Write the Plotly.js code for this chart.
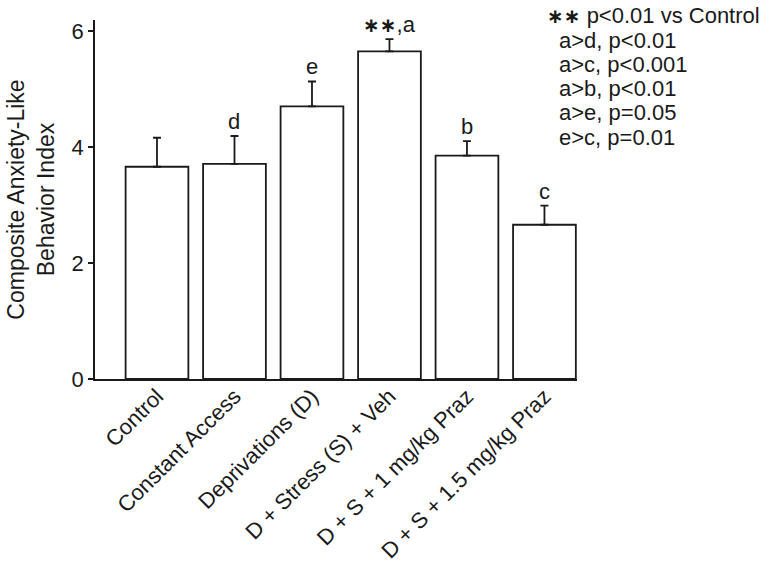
<!DOCTYPE html>
<html><head><meta charset="utf-8">
<script src="https://cdn.plot.ly/plotly-3.0.1.min.js"></script>
<style>html,body{margin:0;padding:0;background:#fff}#chart{width:770px;height:574px}</style>
</head><body><div id="chart"></div>
<script>
const categories = ['Control', 'Constant Access', 'Deprivations (D)', 'D + Stress (S) + Veh', 'D + S + 1 mg/kg Praz', 'D + S + 1.5 mg/kg Praz'];
const means = [3.66, 3.71, 4.70, 5.65, 3.85, 2.66];
const sem = [0.50, 0.48, 0.43, 0.21, 0.25, 0.33];
const sigLetters = ['', 'd', 'e', '**,a', 'b', 'c'];
const yTickVals = [0, 2, 4, 6];
const statLines = ['** p<0.01 vs Control', 'a>d, p<0.01', 'a>c, p<0.001', 'a>b, p<0.01', 'a>e, p=0.05', 'e>c, p=0.01'];

const FONT = 'Liberation Sans, Arial, Helvetica, sans-serif';
const INK = '#1a1a1a';

function esc(s) { return s.replace(/</g, '&lt;').replace(/>/g, '&gt;'); }
function fmtStars(s) { return esc(s).replace('**', "<span style='font-family:DejaVu Sans;font-size:20px'><b>\u2217\u2217</b></span>"); }

const trace = {
  type: 'bar',
  x: categories,
  y: means,
  marker: { color: '#ffffff', line: { color: INK, width: 1.8 } },
  error_y: { type: 'data', array: sem, arrayminus: sem.map(() => 0), symmetric: false, color: INK, thickness: 1.8, width: 4 },
  hoverinfo: 'skip'
};

const annotations = [];
categories.forEach((c, i) => {
  if (!sigLetters[i]) return;
  annotations.push({
    x: c, y: means[i] + sem[i], xref: 'x', yref: 'y', yanchor: 'bottom', xanchor: 'center',
    text: fmtStars(sigLetters[i]), showarrow: false, yshift: 0,
    font: { family: FONT, size: 22, color: INK }
  });
});
const plotLeft = 95, plotW = 482, plotTop = 20, plotH = 359;
statLines.forEach((s, i) => {
  const px = i === 0 ? 545 : 557;
  const py = (i === 0 ? 16 : 40 + (i - 1) * 24.3);
  annotations.push({
    x: (px - plotLeft) / plotW, y: (plotTop + plotH - py) / plotH, xref: 'paper', yref: 'paper',
    xanchor: 'left', yanchor: 'middle', showarrow: false,
    text: fmtStars(s), font: { family: FONT, size: 22, color: INK }
  });
});

const layout = {
  width: 770, height: 574,
  margin: { l: 95, r: 193, t: 20, b: 195 },
  paper_bgcolor: '#fff', plot_bgcolor: '#fff',
  showlegend: false,
  bargap: 0.19,
  font: { family: FONT, size: 22, color: INK },
  xaxis: {
    type: 'category', range: [-0.8, 5.42], showline: true, linecolor: INK, linewidth: 1.8,
    ticks: '', tickangle: -45, showgrid: false, zeroline: false, ticklabelstandoff: -6,
    tickfont: { family: FONT, size: 22, color: INK }, automargin: false
  },
  yaxis: {
    range: [0, 6.19], tickvals: yTickVals, ticktext: yTickVals.map(String),
    showline: true, linecolor: INK, linewidth: 1.8, ticks: 'outside', ticklen: 5, tickwidth: 1.8, tickcolor: INK,
    showgrid: false, zeroline: false, tickfont: { family: FONT, size: 22, color: INK },
    title: { text: 'Composite Anxiety-Like<br>Behavior Index', font: { family: FONT, size: 23, color: INK }, standoff: 10 },
    automargin: false
  },
  annotations: annotations
};

Plotly.newPlot('chart', [trace], layout, { displayModeBar: false, staticPlot: true });
</script>
</body></html>
